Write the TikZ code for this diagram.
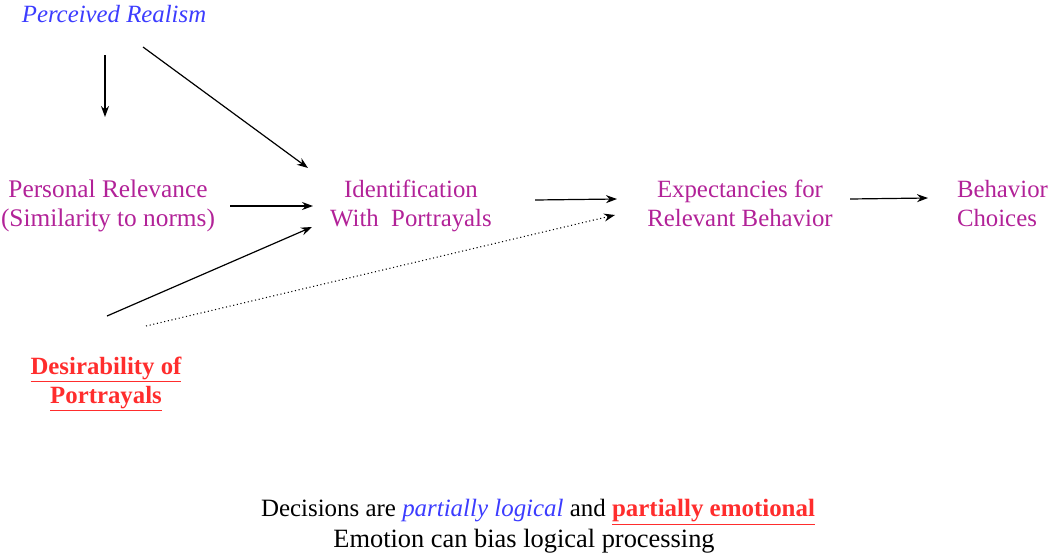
\documentclass[tikz,border=0pt]{standalone}
\usepackage{fontspec}
\setmainfont{Liberation Serif}
\usetikzlibrary{arrows.meta}
\definecolor{purp}{RGB}{178,34,152}
\definecolor{myblue}{RGB}{60,60,255}
\definecolor{myred}{RGB}{255,45,45}
\tikzset{
  base/.style={inner sep=0pt, outer sep=0pt, align=center, font=\fontsize{18.6}{21.75}\selectfont},
  lbl/.style={base, text=purp, text height=13pt, text depth=4pt},
  arr/.style={line width=0.9pt, -{Stealth[length=8.25pt,width=6pt]}},
  dotarr/.style={line width=0.8pt, dotted, -{Stealth[length=8.25pt,width=6pt]}}
}
\begin{document}
\begin{tikzpicture}[x=0.75pt,y=-0.75pt]
\useasboundingbox (0,0) rectangle (1049,554);
\node[base, text=myblue, font=\fontsize{18.6}{21.75}\selectfont\itshape] (pr) at (114,14) {Perceived Realism};
\node[lbl, font=\fontsize{19}{21.75}\selectfont] (rel) at (108,220) {Personal Relevance\\(Similarity to norms)};
\node[lbl] (id) at (411,220) {Identification\\With\ \ Portrayals};
\node[lbl] (ex) at (740,220) {Expectancies for\\Relevant Behavior};
\node[lbl, align=left, anchor=west] (bc) at (957,220) {Behavior\\Choices};
\node[base, text=myred, font=\fontsize{18.6}{21.75}\selectfont\bfseries] (de) at (106,384) {{\color{myred}\underline{Desirability of}}\\{\color{myred}\underline{Portrayals}}};
\node[inner sep=0pt, font=\fontsize{18.7}{29}\selectfont] (l1) at (538,512) {Decisions are {\color{myblue}\itshape partially logical} and {\color{myred}\underline{\textbf{partially emotional}}}};
\node[inner sep=0pt, font=\fontsize{19.8}{29}\selectfont] (l2) at (524,541) {Emotion can bias logical processing};

\draw[arr] ([shift={(-9,41)}]pr.center) -- ([shift={(-9,103)}]pr.center);
\draw[arr] ([shift={(29,33)}]pr.center) -- ([shift={(-103,-52)}]id.center);
\draw[arr] ([shift={(122,-14)}]rel.center) -- ([shift={(-98,-14)}]id.center);
\draw[arr] ([shift={(1,-68)}]de.center) -- ([shift={(-99,7)}]id.center);
\draw[dotarr] ([shift={(40,-58)}]de.center) -- ([shift={(-125,-5)}]ex.center);
\draw[arr] ([shift={(124,-20)}]id.center) -- ([shift={(-123,-21)}]ex.center);
\draw[arr] ([shift={(110,-21)}]ex.center) -- ([shift={(-29,-22)}]bc.west);
\end{tikzpicture}
\end{document}
